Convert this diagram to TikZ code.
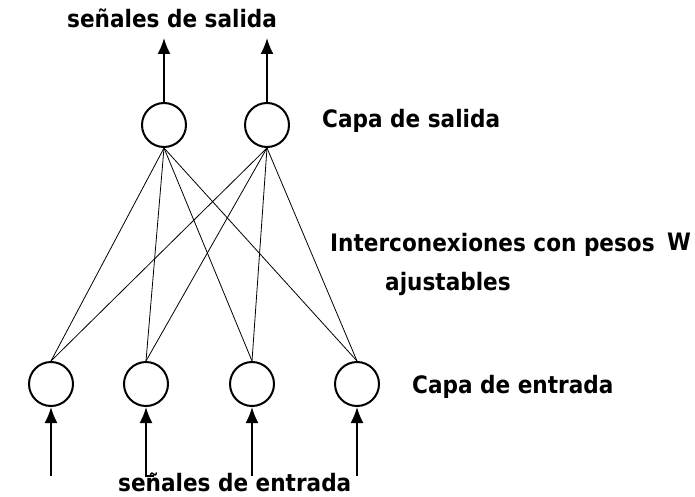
\documentclass[tikz,border=0pt]{standalone}
\usepackage{fontspec}
\setmainfont[FakeStretch=0.9]{DejaVu Sans}
\usetikzlibrary{positioning,arrows.meta}

\begin{document}
\begin{tikzpicture}[>={Latex[length=16pt,width=13pt]}, x=1pt, y=-1pt]

    \useasboundingbox (0,0) rectangle (695,497);

    %
    % Styles for neurons, connections and labels
    %
    \tikzstyle{neuron} = [draw, line width=2pt, circle, minimum size=44pt, inner sep=0pt];
    \tikzstyle{weight} = [black, line width=0.8pt];
    \tikzstyle{signal} = [black, line width=1.8pt, ->];
    \tikzstyle{caption} = [anchor=base west, inner sep=0pt,
                           font={\fontsize{24}{28}\selectfont\bfseries}];

    %
    % Position neurons
    %
    \node[neuron, name=salida1] at (164,125) {};
    \node[neuron, name=salida2] at (267,125) {};
    \node[neuron, name=entrada1] at (51,384) {};
    \node[neuron, name=entrada2] at (146,384) {};
    \node[neuron, name=entrada3] at (252,384) {};
    \node[neuron, name=entrada4] at (357,384) {};

    % free ends of the signals
    \coordinate (fin1) at (164,38);
    \coordinate (fin2) at (267,38);
    \coordinate (ini1) at (51,476);
    \coordinate (ini2) at (154,476);
    \coordinate (ini3) at (252,476);
    \coordinate (ini4) at (357,476);

    %
    % Adjustable interconnections
    %
    \draw (salida1.south)
      edge[weight] (entrada1.north)
      edge[weight] (entrada2.north)
      edge[weight] (entrada3.north)
      edge[weight] (entrada4.north);
    \draw (salida2.south)
      edge[weight] (entrada1.north)
      edge[weight] (entrada2.north)
      edge[weight] (entrada3.north)
      edge[weight] (entrada4.north);

    %
    % Input and output signals
    %
    \draw[signal] (salida1.north) -- (fin1);
    \draw[signal] (salida2.north) -- (fin2);
    \draw[signal] (ini1) -- (entrada1.south);
    \draw[signal] (ini2) -| (entrada2.south);
    \draw[signal] (ini3) -- (entrada3.south);
    \draw[signal] (ini4) -- (entrada4.south);

    %
    % Labels
    %
    \node[caption, name=salidaTxt] at (67,28) {señales de salida};
    \node[caption, name=capaSalida] at (322,128) {Capa de salida};
    \node[caption, name=pesosTxt] at (330,251) {Interconexiones con pesos};
    \node[caption, name=pesoW] at (667,250) {W};
    \node[caption, name=ajustTxt] at (385,290) {ajustables};
    \node[caption, name=capaEntrada] at (412,393) {Capa de entrada};
    \node[caption, name=entradaTxt] at (118,491) {señales de entrada};
\end{tikzpicture}
\end{document}
